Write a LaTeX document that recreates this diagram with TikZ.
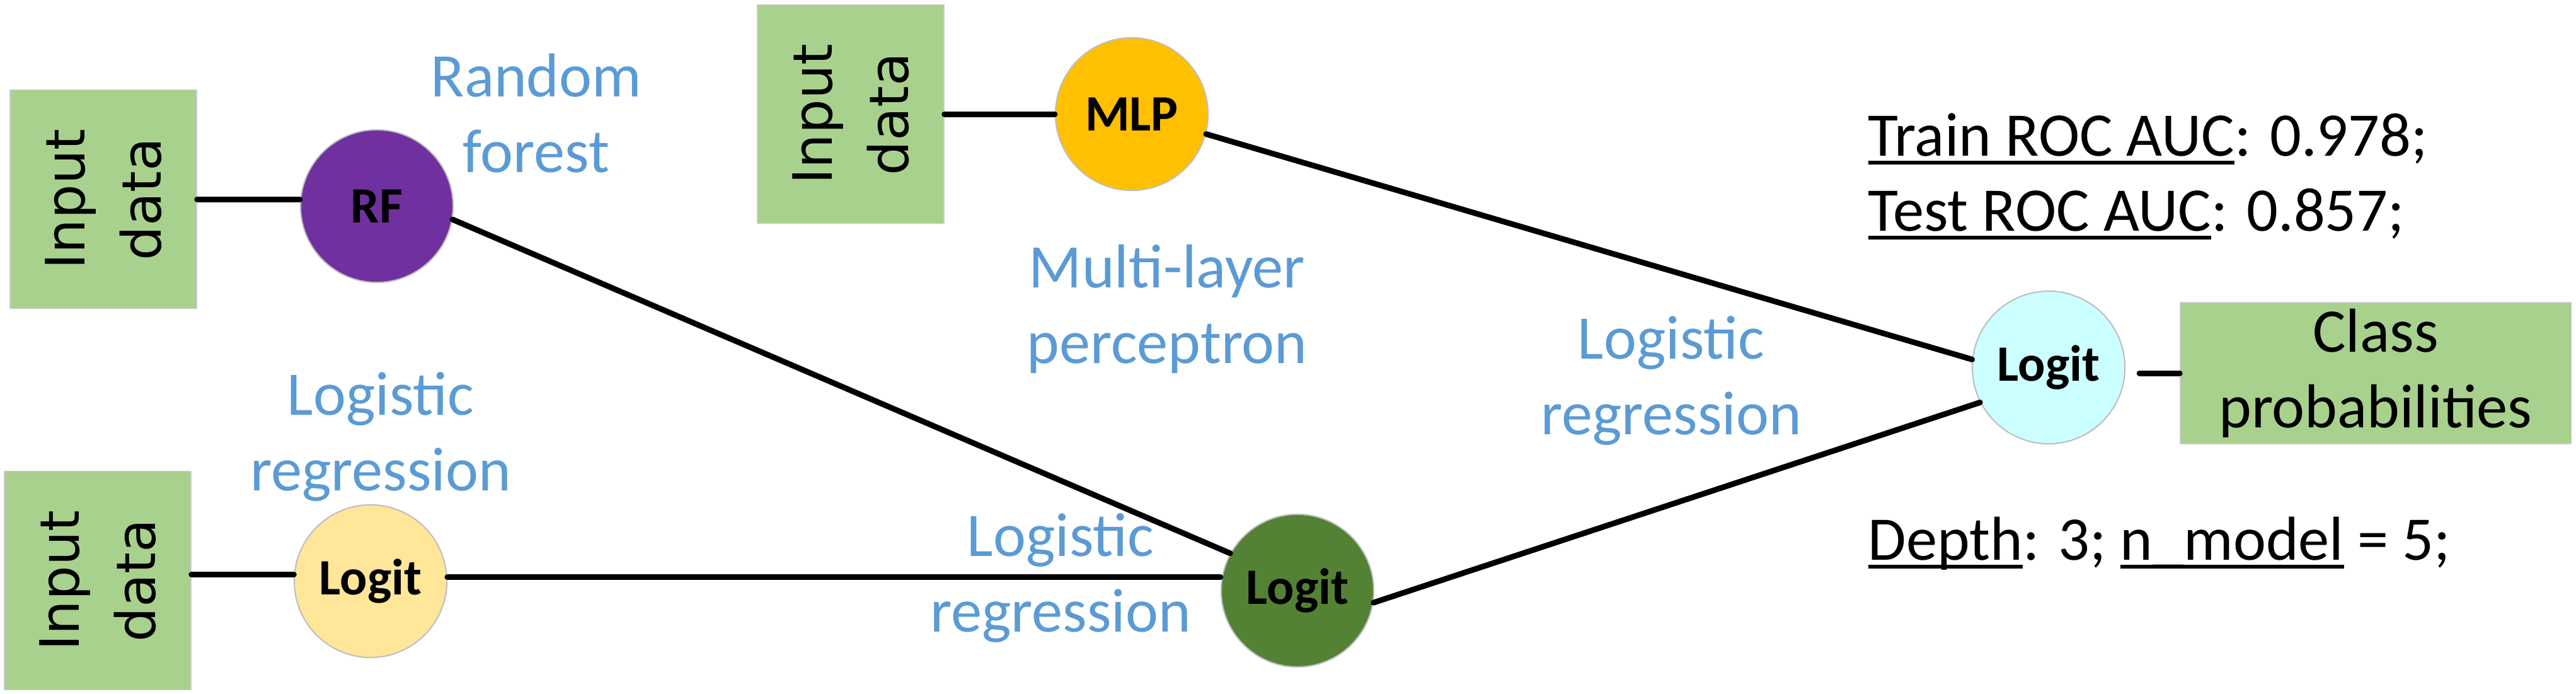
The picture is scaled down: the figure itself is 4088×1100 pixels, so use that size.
\documentclass[tikz,border=0pt]{standalone}
\usepackage{fontspec}
\setmainfont{Carlito}
\newfontfamily\inputfont{DejaVu Sans}
% underline at a fixed depth, like the one in the figure
\newcommand{\undl}[1]{\setbox0\hbox{#1}\rlap{\rule[-0.14cm]{\wd0}{0.06cm}}\box0\relax}

\definecolor{boxgreen}{HTML}{A9D18E}
\definecolor{lblue}{HTML}{5B9BD5}
\definecolor{rfpurple}{HTML}{7030A0}
\definecolor{mlporange}{HTML}{FFC000}
\definecolor{lrpale}{HTML}{FFE699}
\definecolor{lrgreen}{HTML}{548235}
\definecolor{lrcyan}{HTML}{CCFFFF}

\begin{document}
\begin{tikzpicture}[x=0.01cm,y=-0.01cm,
    inbox/.style={draw=black!20,fill=boxgreen,rotate=90,minimum width=3.47cm,minimum height=2.96cm,inner sep=0pt,align=center,font=\inputfont\fontsize{24.5}{34.4}\selectfont},
    model/.style={shape=circle,draw=black!25,line width=0.6pt,minimum size=2.42cm,inner sep=0pt,font=\bfseries\fontsize{23}{27}\selectfont},
    lbl/.style={text=lblue,align=center,font=\fontsize{28}{34.1}\selectfont},
    score/.style={anchor=base west,inner sep=0pt,font=\fontsize{28}{34}\selectfont},
    link/.style={draw,line width=0.09cm,line cap=round}]
      \useasboundingbox (0,0) rectangle (4088,1100);
      % inputs and output
      \node[inbox] (in1) at (164,316) {Input\\data};
      \node[inbox] (in2) at (1350,181) {Input\\data};
      \node[inbox] (in3) at (155,921) {Input\\data};
      \node[draw=black!20,fill=boxgreen,minimum width=6.2cm,minimum height=2.24cm,inner sep=0pt,align=center,font=\fontsize{28}{34.1}\selectfont] (out) at (3770,592) {Class\\probabilities};
      % models
      \node[model,fill=rfpurple] (rf) at (598,327) {RF};
      \node[model,fill=mlporange] (mlp) at (1796,181) {MLP};
      \node[model,fill=lrpale] (lr1) at (588,922) {Logit};
      \node[model,fill=lrgreen] (lr2) at (2059,937) {Logit};
      \node[model,fill=lrcyan] (lr3) at (3251,583) {Logit};
      % labels
      \node[lbl] (rflbl) at (851,180) {Random\\forest};
      \node[lbl] (mlplbl) at (1852,490) {Multi-layer\\perceptron};
      \node[lbl] (lr1lbl) at (604,693) {Logistic\\regression};
      \node[lbl] (lr2lbl) at (1683,917) {Logistic\\regression};
      \node[lbl] (lr3lbl) at (2652,604) {Logistic\\regression};
      % scores
      \node[score] (train) at (2964,247) {\undl{Train ROC AUC}: 0.978;};
      \node[score] (test) at (2964,366) {\undl{Test ROC AUC}: 0.857;};
      \node[score] (depth) at (2964,888) {\undl{Depth}: 3; \undl{n\_model} = 5;};
      \path[link]
      (in1.south) edge (in1.south -| rf.west)
      (in2.south) edge (mlp.west)
      (in3.south |- lr1.175) edge (lr1.175)
      (lr1.3) edge (lr1.3 -| lr2.west)
      (rf.-10) edge (lr2.151)
      (mlp.-15) edge (lr3.174)
      (lr2.-9) edge (lr3.207)
      (lr3.east |- out.west) edge[shorten <=0.22cm] (out.west);
\end{tikzpicture}
\end{document}
